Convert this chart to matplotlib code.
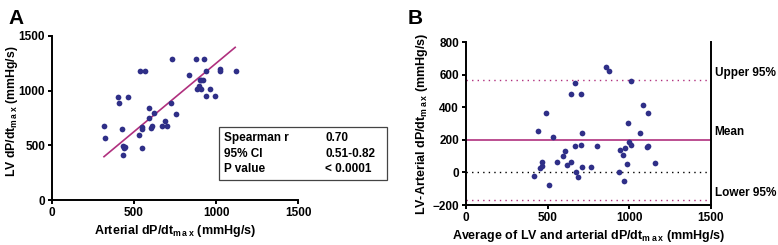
import numpy as np
from matplotlib import pyplot as plt

plt.rcParams['font.family'] = ['Liberation Sans', 'DejaVu Sans']
plt.rcParams['font.weight'] = 'bold'
plt.rcParams['axes.labelweight'] = 'bold'
plt.rcParams['mathtext.fontset'] = 'custom'
plt.rcParams['mathtext.rm'] = 'Liberation Sans:bold'
plt.rcParams['mathtext.bf'] = 'Liberation Sans:bold'

# Painel A - dP/dt arterial x dP/dt do VE (mmHg/s)
art_dpdt = [317, 321, 400, 408, 465, 428, 434, 440, 434, 445, 537, 570, 531, 549, 549,
            547, 592, 592, 606, 612, 620, 673, 691, 703, 727, 731, 754, 838, 879, 925,
            900, 910, 920, 883, 911, 895, 939, 942, 962, 996, 1026, 1026, 1123]
lv_dpdt = [677, 570, 945, 890, 945, 646, 497, 473, 412, 485, 1183, 1183, 595, 670, 650,
           476, 838, 747, 655, 677, 793, 677, 726, 677, 890, 1293, 790, 1140, 1290, 1290,
           1098, 1098, 1098, 1018, 1018, 1046, 1183, 948, 1012, 948, 1195, 1183, 1183]

# Reta de regressão
reg_x = [317, 1117]
reg_slope = 1.25
reg_icpt = 0.0

stats_names = ['Spearman r', '95% CI', 'P value']
stats_vals = ['0.70', '0.51-0.82', '< 0.0001']

# Painel B - Bland-Altman
ba_mean = [418, 439, 453, 463, 467, 490, 506, 533, 557, 596, 606, 621, 641, 643, 665,
           667, 672, 688, 704, 704, 708, 712, 765, 804, 857, 875, 1012, 945, 959, 974,
           939, 969, 988, 992, 1000, 1008, 1066, 1086, 1112, 1107, 1114, 1157]
ba_diff = [-24, 251, 27, 63, 40, 363, -76, 216, 63, 98, 129, 47, 63, 484, 547,
           159, 2, -29, 484, 169, 33, 241, 33, 165, 649, 620, 561, 135, 108, 149,
           2, -55, 51, 302, 186, 169, 241, 412, 363, 153, 159, 57]
bias = 200
upper = 567
lower = -169

pt_color = '#2f2f88'
line_color = '#b0307e'

fig = plt.figure(figsize = (7.78, 2.45), dpi = 100)

# ---- Painel A ----
axA = fig.add_axes([52/778, 45/245, 246/778, 164/245])
axA.scatter(art_dpdt, lv_dpdt, s = 17, color = pt_color, zorder = 3, linewidths = 0)
rx = np.array(reg_x)
axA.plot(rx, reg_slope * rx + reg_icpt, color = line_color, lw = 1.2)
axA.set_xlim(0, 1500)
axA.set_ylim(0, 1500)
axA.set_xticks([0, 500, 1000, 1500])
axA.set_yticks([0, 500, 1000, 1500])
axA.spines['top'].set_visible(False)
axA.spines['right'].set_visible(False)
axA.set_xlabel(r'Arterial dP/dt$_{\mathbf{m\,a\,x}}$ (mmHg/s)', fontsize = 9, labelpad = 3)
axA.set_ylabel(r'LV dP/dt$_{\mathbf{m\,a\,x}}$ (mmHg/s)', fontsize = 8.8)
axA.yaxis.set_label_coords(-0.132, 0.54)

# Caixa de estatísticas
box = plt.Rectangle((219/778, (245-180)/245), 168/778, 53/245, transform = fig.transFigure,
                    fill = False, ec = '#444444', lw = 0.9)
fig.patches.append(box)
for k in range(3):
    yy = (245 - 138 - 15.5 * k) / 245
    fig.text(224/778, yy, stats_names[k], fontsize = 8.5, va = 'center')
    fig.text(325/778, yy, stats_vals[k], fontsize = 8.5, va = 'center')

# ---- Painel B ----
axB = fig.add_axes([466/778, 40/245, 245/778, 163/245])
axB.scatter(ba_mean, ba_diff, s = 17, color = pt_color, zorder = 3, linewidths = 0)
axB.axhline(bias, color = line_color, lw = 1.2)
axB.axhline(upper, color = line_color, lw = 1.0, ls = (0, (1, 3)))
axB.axhline(lower, color = line_color, lw = 1.0, ls = (0, (1, 3)))
axB.axhline(0, color = 'black', lw = 1.0, ls = (0, (1, 3)))
axB.set_xlim(0, 1500)
axB.set_ylim(-200, 800)
axB.set_xticks([0, 500, 1000, 1500])
axB.set_yticks([-200, 0, 200, 400, 600, 800])
axB.spines['top'].set_visible(False)
axB.set_xlabel(r'Average of LV and arterial dP/dt$_{\mathbf{m\,a\,x}}$ (mmHg/s)', fontsize = 9, labelpad = 3)
axB.set_ylabel(r'LV-Arterial dP/dt$_{\mathbf{m\,a\,x}}$ (mmHg/s)', fontsize = 9, labelpad = 2)
for val, lab in [(upper, 'Upper 95%'), (bias, 'Mean'), (lower, 'Lower 95%')]:
    axB.text(1.015, val + 45, lab, transform = axB.get_yaxis_transform(),
             fontsize = 8.5, va = 'center', ha = 'left')

for ax in (axA, axB):
    for sp in ax.spines.values():
        sp.set_linewidth(1.4)
    ax.tick_params(labelsize = 8.5, width = 1.4, length = 3, pad = 2)
    for lab in ax.get_xticklabels() + ax.get_yticklabels():
        lab.set_fontweight('bold')
axB.tick_params(axis = 'y', right = False)

fig.text(8/778, (245-18)/245, 'A', fontsize = 15, fontweight = 'bold', va = 'center')
fig.text(408/778, (245-18)/245, 'B', fontsize = 15, fontweight = 'bold', va = 'center')

fig.savefig('out.png', dpi = 100)
